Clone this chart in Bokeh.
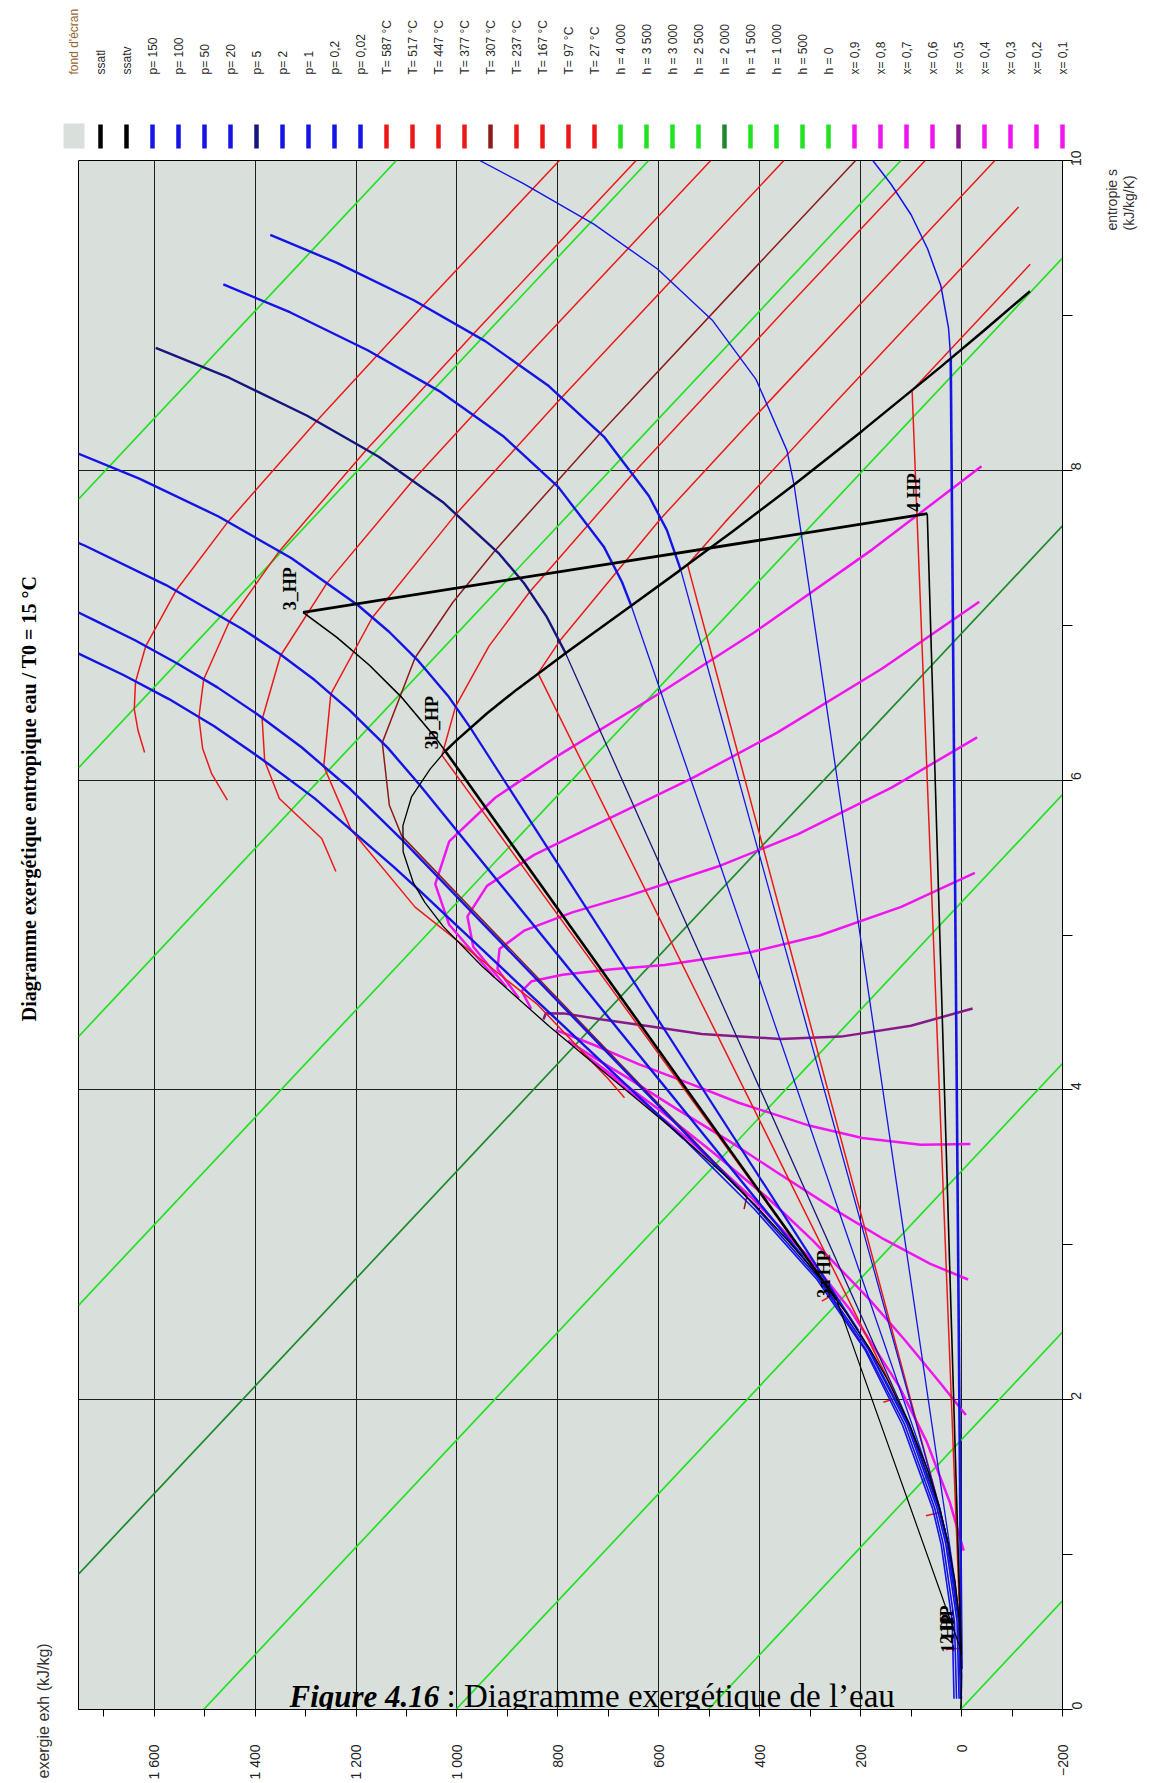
import math
from bokeh.plotting import figure
from bokeh.layouts import column, row
from bokeh.models import Range1d, FixedTicker
from bokeh.core.properties import value
from bokeh.embed import file_html
from bokeh.resources import INLINE

# ---------------------------------------------------------------------------
# Water exergy diagram, T0 = 15 °C : entropy s (kJ/kg/K) vs exergy ex (kJ/kg)
# ---------------------------------------------------------------------------

# isobars (bar); each curve: compressed liquid, saturated liquid, saturated vapour, superheated
isobar_labels = ["p= 150", "p= 100", "p= 50", "p= 20", "p= 5", "p= 2", "p= 1", "p= 0,2", "p= 0,02"]
isobar_s = [
    [0.07, 0.565, 1.066, 1.30, 1.835, 2.32, 2.777, 3.228, 3.684, 5.310, 5.442, 5.882, 6.140, 6.348, 6.523, 6.677, 6.817],
    [0.07, 0.567, 1.069, 1.301, 1.837, 2.321, 2.789, 3.248, 3.360, 5.614, 5.944, 6.212, 6.419, 6.597, 6.756, 6.903, 7.038, 7.17],
    [0.07, 0.57, 1.072, 1.304, 1.84, 2.327, 2.79, 2.921, 5.973, 6.208, 6.449, 6.646, 6.819, 6.976, 7.259, 7.513, 7.63],
    [0.07, 0.571, 1.074, 1.305, 1.841, 2.33, 2.447, 6.340, 6.545, 6.766, 6.956, 7.127, 7.432, 7.702, 7.946, 8.17],
    [0.07, 0.572, 1.075, 1.307, 1.861, 6.821, 7.059, 7.271, 7.460, 7.794, 8.087, 8.352, 8.596, 8.79],
    [0.07, 0.572, 1.075, 1.307, 1.530, 7.127, 7.279, 7.507, 7.893, 8.222, 8.513, 8.775, 9.019, 9.20],
    [0.07, 0.572, 1.075, 1.303, 7.359, 7.614, 7.834, 8.216, 8.544, 8.834, 9.098, 9.341, 9.52],
    [0.07, 0.572, 0.832, 7.907, 8.127, 8.585, 8.969, 9.298, 9.588, 9.852, 10.0],
    [0.07, 0.261, 8.724, 8.92, 9.191, 9.43, 9.65, 9.85, 10.0],
]
isobar_ex = [
    [15, 18.5, 40.5, 57.6, 117, 191, 287, 410, 550.7, 1082, 1126, 1282, 1388.6, 1481, 1570.7, 1660, 1749.7],
    [10, 14, 36.5, 53.3, 112.5, 188.8, 285.6, 409, 441, 1108.7, 1212, 1308, 1393, 1474, 1556, 1638, 1722, 1806],
    [5, 9, 31.5, 49, 108, 185, 284, 314, 1075, 1137, 1212, 1282, 1353, 1425.5, 1576.5, 1737, 1821],
    [2, 6.2, 28.8, 46, 105, 184, 205, 974, 1018, 1075.6, 1134, 1195.6, 1327.8, 1472.5, 1629.5, 1797],
    [0.7, 4.6, 27.2, 44.5, 105.6, 785, 823, 867, 916, 1027.8, 1155, 1296.8, 1450.6, 1597],
    [0.5, 4.4, 27, 44.2, 65.5, 654.8, 673, 709, 799.4, 909, 1035.8, 1177, 1330, 1463],
    [0.5, 4.4, 27, 43.7, 556.7, 584, 619.6, 708.5, 818, 944, 1085.5, 1238.8, 1370],
    [0.5, 4.3, 13.4, 332, 346, 407, 494, 602, 728, 869, 955],
    [0.7, 0.0, 21.5, 25.9, 41, 67.4, 100, 140.4, 176],
]
# position of the saturated-liquid point in each isobar (the saturated vapour follows it)
isobar_sat_index = [8, 8, 7, 6, 4, 4, 3, 2, 1]

# isotherms (°C)
isotherm_labels = ["T= 587 °C", "T= 517 °C", "T= 447 °C", "T= 377 °C", "T= 307 °C",
                   "T= 237 °C", "T= 167 °C", "T= 97 °C", "T= 27 °C"]
isotherm_s = [
    [6.178, 6.32, 6.458, 6.634, 6.863, 7.222, 7.667, 8.318, 9.064, 10.0],
    [5.871, 6.04, 6.204, 6.404, 6.649, 7.024, 7.478, 8.132, 8.879, 10.0],
    [5.41, 5.623, 5.881, 6.123, 6.393, 6.801, 7.27, 7.932, 8.68, 10.0],
    [3.95, 4.07, 4.55, 5.18, 5.68, 6.089, 6.555, 7.048, 7.717, 8.469, 10.0],
    [3.23, 3.315, 5.64, 5.838, 6.242, 6.79, 7.148, 7.484, 8.239, 9.302, 10.0],
    [2.636, 2.679, 6.16, 6.476, 6.865, 7.216, 7.981, 9.044, 10.0],
    [1.983, 2.012, 6.689, 6.896, 7.689, 8.432, 9.072, 10.0],
    [1.251, 1.273, 7.391, 7.667, 8.41, 9.154, 9.70],
    [0.387, 0.395, 8.515, 8.78, 9.10, 9.33],
]
isotherm_ex = [
    [1619, 1632, 1639.5, 1637, 1617, 1557, 1454, 1278, 1067, 797],
    [1455, 1486, 1504, 1511.5, 1502, 1451, 1352, 1179.5, 968, 645],
    [1240, 1268, 1352, 1381, 1386, 1350, 1258, 1088, 877.5, 497],
    [668, 700, 840, 1083, 1210, 1264, 1250, 1168, 1002, 793, 352],
    [431, 425.5, 1109.5, 1134, 1148, 1083, 1008, 924, 716, 411, 210],
    [277, 254.2, 1029.7, 1002.7, 936.5, 855.7, 650.6, 347.7, 72],
    [155, 127.8, 839.3, 797, 596, 385, 201, -66],
    [70.7, 41.4, 543.1, 468.4, 258, 44, -113],
    [31, 1.1, 98, 22, -70, -136],
]

# isenthalps (kJ/kg): straight lines, end points
isenthalp_labels = ["h = 4 000", "h = 3 500", "h = 3 000", "h = 2 500", "h = 2 000",
                    "h = 1 500", "h = 1 000", "h = 500", "h = 0"]
isenthalp_s = [[7.814, 10.0], [6.079, 10.0], [4.344, 10.0], [2.609, 9.37], [0.873, 7.641],
               [0.0, 5.906], [0.0, 4.17], [0.0, 2.436], [0.0, 0.701]]
isenthalp_ex = [[1750, 1120], [1750, 620], [1750, 120], [1750, -200], [1750, -200],
                [1502, -200], [1002, -200], [502, -200], [2, -200]]

# vapour quality lines (10 °C ... 370 °C)
quality_labels = ["x= 0,9", "x= 0,8", "x= 0,7", "x= 0,6", "x= 0,5", "x= 0,4", "x= 0,3", "x= 0,2", "x= 0,1"]
quality_s = [
    [8.026, 7.488, 6.958, 6.569, 6.140, 5.886, 5.604, 5.328, 5.068, 4.729],
    [7.151, 6.719, 6.305, 6.009, 5.695, 5.517, 5.317, 5.120, 4.924, 4.661],
    [6.276, 5.951, 5.651, 5.449, 5.251, 5.148, 5.030, 4.911, 4.781, 4.592],
    [5.401, 5.182, 4.997, 4.889, 4.806, 4.779, 4.743, 4.702, 4.638, 4.523],
    [4.526, 4.414, 4.344, 4.329, 4.361, 4.410, 4.456, 4.494, 4.495, 4.455],
    [3.651, 3.646, 3.690, 3.768, 3.917, 4.040, 4.168, 4.285, 4.351, 4.386],
    [2.776, 2.877, 3.036, 3.208, 3.473, 3.671, 3.881, 4.076, 4.208, 4.317],
    [1.901, 2.109, 2.382, 2.648, 3.028, 3.302, 3.594, 3.867, 4.065, 4.248],
    [1.026, 1.340, 1.729, 2.088, 2.584, 2.933, 3.307, 3.659, 3.921, 4.180],
]
quality_ex = [
    [-39.5, 177.2, 408.8, 594.5, 808.4, 924.3, 1015.3, 1043.0, 1015.7, 926.0],
    [-35.1, 158.0, 366.3, 535.7, 735.0, 847.1, 940.5, 979.3, 967.7, 901.6],
    [-30.7, 138.8, 323.9, 476.9, 661.7, 769.9, 865.7, 915.6, 919.7, 877.3],
    [-26.3, 119.6, 281.4, 418.1, 588.4, 692.7, 790.9, 851.9, 871.7, 852.9],
    [-21.9, 100.3, 239.0, 359.3, 515.1, 615.5, 716.2, 788.3, 823.8, 828.6],
    [-17.4, 81.1, 196.6, 300.4, 441.7, 538.3, 641.4, 724.6, 775.8, 804.2],
    [-13.0, 61.9, 154.1, 241.6, 368.4, 461.1, 566.6, 660.9, 727.8, 779.8],
    [-8.6, 42.7, 111.7, 182.8, 295.1, 383.9, 491.8, 597.2, 679.8, 755.5],
    [-4.2, 23.5, 69.2, 124.0, 221.7, 306.7, 417.0, 533.5, 631.8, 731.2],
]

# saturation curves
ssatl_s = [0.0, 0.151, 0.2245, 0.572, 0.831, 1.075, 1.307, 1.528, 1.842, 2.139, 2.331, 2.564,
           2.794, 3.020, 3.255, 3.450, 3.660, 3.778, 3.917, 4.111, 4.407]
ssatl_ex = [1.7, 0.2, 0.0, 4.3, 13.3, 26.8, 44.2, 65.2, 103.2, 148.4, 182.5, 229.5,
            282.5, 342.2, 408.6, 469.8, 541.6, 583.8, 634.8, 706.8, 816.1]
ssatv_top_s = [4.407, 4.798, 5.054, 5.211, 5.336, 5.537, 5.706, 5.891, 6.072, 6.187]
ssatv_top_ex = [816.1, 950.3, 1027, 1063.7, 1086.3, 1106.7, 1107.1, 1090.1, 1052.9, 1023]
ssatv_low_s = [6.187, 6.255, 6.430, 6.584, 6.837, 7.129, 7.354, 7.612, 7.909, 8.256, 8.666, 8.901, 9.156]
ssatv_low_ex = [1023, 1001.5, 940.8, 881.7, 777.5, 653.3, 558.2, 451.2, 331.4, 196.4, 42.0, -43.9, -135.6]

# steam cycle states (1, 2, 3a, 3b, 3, 4)
cycle_names = ["1 HP", "2 HP", "3a HP", "3b_HP", "3_HP", "4 HP"]
cycle_s = [0.354, 0.41, 2.646, 6.187, 7.083, 7.72]
cycle_ex = [0.6, 4.0, 247.7, 1023, 1305, 68]
# superheating 3b -> 3 along the 30 bar isobar
superheat_s = [6.187, 6.287, 6.539, 6.743, 6.921, 7.083]
superheat_ex = [1023, 1045.8, 1111, 1174, 1238, 1305]

# axis ticks
ex_ticks = [-200, 0, 200, 400, 600, 800, 1000, 1200, 1400, 1600]
ex_minor = [-100, 100, 300, 500, 700, 900, 1100, 1300, 1500, 1700]
s_ticks = [0, 2, 4, 6, 8, 10]
s_minor = [1, 3, 5, 7, 9]

# ---------------------------------------------------------------------------
BG = "#d9e0db"
BLUE = "#1414e6"
NAVY = "#16167c"
RED = "#ec1818"
MAROON = "#8e1b1b"
GREEN = "#22e022"
DKGREEN = "#1c8a2c"
MAGENTA = "#f014f0"
PURPLE = "#861a8a"

isobar_colors = [BLUE] * 4 + [NAVY] + [BLUE] * 4
isobar_w_liquid = [1.6] * 9
isobar_w_mix = [2.4, 2.4, 2.4, 2.2, 1.3, 1.3, 1.3, 1.3, 2.6]
isobar_w_vapour = [2.4] * 7 + [1.4, 1.5]
isotherm_colors = [RED] * 4 + [MAROON] + [RED] * 4
isenthalp_colors = [GREEN] * 4 + [DKGREEN] + [GREEN] * 4
quality_colors = [MAGENTA] * 4 + [PURPLE] + [MAGENTA] * 4

PAGE_W, PAGE_H = 1150, 1783
LEG_H = 150
LEFT_W, RIGHT_W = 60, 54
FRAME_L, FRAME_R, FRAME_T, FRAME_B = 78, 1062, 160, 1709
EX_MAX, EX_MIN = 1750, -200
BODY_H = PAGE_H - LEG_H


def ex_at(px):
    return EX_MAX - (px - FRAME_L) * (EX_MAX - EX_MIN) / (FRAME_R - FRAME_L)


def s_at(py):
    return (FRAME_B - py) * 10.0 / (FRAME_B - FRAME_T)


def blank(width, height, x0):
    f = figure(width=width, height=height, x_range=Range1d(x0, x0 + width), y_range=Range1d(0, height),
               x_axis_type=None, y_axis_type=None, output_backend="svg", toolbar_location=None,
               min_border=0, outline_line_color=None, background_fill_color="white",
               border_fill_color="white", frame_align=False)
    f.grid.visible = False
    return f


# ---------------------------- legend strip ---------------------------------
leg = blank(PAGE_W, LEG_H, 0)
entry_names = ["ssatl", "ssatv"] + isobar_labels + isotherm_labels + isenthalp_labels + quality_labels
entry_colors = ["black", "black"] + isobar_colors + isotherm_colors + isenthalp_colors + quality_colors
entry_x = [100 + 26.0 * i for i in range(len(entry_names))]

leg.quad(left=[63], right=[84], bottom=[LEG_H - 148], top=[LEG_H - 123], fill_color=BG, line_color=None)
leg.segment(x0=entry_x, y0=[LEG_H - 148] * len(entry_x), x1=entry_x, y1=[LEG_H - 124] * len(entry_x),
            line_color=entry_colors, line_width=4.5)
leg.text(x=[73.5] + entry_x, y=[LEG_H - 74] * (len(entry_x) + 1),
         text=["fond d'écran"] + entry_names, angle=math.pi / 2,
         text_align="left", text_baseline="middle", text_font=value("Liberation Sans"),
         text_font_size="12px", text_color=["#94652e"] + ["#2a2a2a"] * len(entry_x))

# ------------------------- left and right margins ---------------------------
left = blank(LEFT_W, BODY_H, 0)
left.text(x=[28], y=[PAGE_H - 798], text=["Diagramme exergétique entropique eau / T0 = 15 °C"],
          angle=math.pi / 2, text_align="center", text_baseline="middle",
          text_font=value("Liberation Serif"), text_font_style="bold", text_font_size="20px",
          text_color="black")
left.text(x=[43], y=[PAGE_H - 1778], text=["exergie exh (kJ/kg)"], angle=math.pi / 2,
          text_align="left", text_baseline="middle", text_font=value("Liberation Sans"),
          text_font_size="16px", text_color="#333333")

right = blank(RIGHT_W, BODY_H, PAGE_W - RIGHT_W)
right.text(x=[1111, 1128], y=[PAGE_H - 230, PAGE_H - 230], text=["entropie s", "(kJ/kg/K)"],
           angle=math.pi / 2, text_align="left", text_baseline="middle",
           text_font=value("Liberation Sans"), text_font_size="14px", text_color="#333333")

# ----------------------------- main diagram --------------------------------
p = figure(width=PAGE_W - LEFT_W - RIGHT_W, height=BODY_H,
           x_range=Range1d(EX_MAX, EX_MIN), y_range=Range1d(0, 10),
           output_backend="svg", toolbar_location=None, y_axis_location="right",
           min_border_left=FRAME_L - LEFT_W, min_border_right=PAGE_W - RIGHT_W - FRAME_R,
           min_border_top=FRAME_T - LEG_H, min_border_bottom=PAGE_H - FRAME_B,
           background_fill_color=BG, border_fill_color="white",
           outline_line_color="black", outline_line_width=1, frame_align=False)

p.xaxis.ticker = FixedTicker(ticks=ex_ticks, minor_ticks=ex_minor)
p.yaxis.ticker = FixedTicker(ticks=s_ticks, minor_ticks=s_minor)
p.xaxis.major_label_overrides = {1600: "1 600", 1400: "1 400", 1200: "1 200", 1000: "1 000"}
for ax in (p.xaxis, p.yaxis):
    ax.axis_line_color = "black"
    ax.major_tick_line_color = "black"
    ax.minor_tick_line_color = "black"
    ax.major_tick_in = 0
    ax.minor_tick_in = 0
    ax.major_label_orientation = math.pi / 2
    ax.major_label_text_font = "Liberation Sans"
    ax.major_label_text_font_size = "14px"
    ax.major_label_text_color = "#222222"
p.xaxis.major_tick_out = 7
p.xaxis.minor_tick_out = 7
p.xaxis.major_label_standoff = 28
p.yaxis.major_tick_out = 10
p.yaxis.minor_tick_out = 10
p.yaxis.major_label_standoff = 4

p.xgrid.grid_line_color = "#1e1e1e"
p.ygrid.grid_line_color = "#1e1e1e"

# isenthalps
for xs, ys, c in zip(isenthalp_s, isenthalp_ex, isenthalp_colors):
    p.line(ys, xs, line_color=c, line_width=1.7)
# vapour quality
for xs, ys, c in zip(quality_s, quality_ex, quality_colors):
    p.line(ys, xs, line_color=c, line_width=2.5)
# isotherms
for xs, ys, c in zip(isotherm_s, isotherm_ex, isotherm_colors):
    p.line(ys, xs, line_color=c, line_width=1.5)
# isobars: liquid branch, liquid-vapour mixture, vapour branch
for xs, ys, c, k, wl, wm, wv in zip(isobar_s, isobar_ex, isobar_colors, isobar_sat_index,
                                    isobar_w_liquid, isobar_w_mix, isobar_w_vapour):
    p.line(ys[:k + 1], xs[:k + 1], line_color=c, line_width=wl)
    p.line(ys[k:k + 2], xs[k:k + 2], line_color=c, line_width=wm)
    p.line(ys[k + 1:], xs[k + 1:], line_color=c, line_width=wv)

# saturation curves
p.line(ssatl_ex, ssatl_s, line_color="black", line_width=1.3)
p.line(ssatv_top_ex, ssatv_top_s, line_color="black", line_width=1.3)
p.line(ssatv_low_ex, ssatv_low_s, line_color="black", line_width=2.5)

# steam cycle
i1, i2, i3a, i3b, i3, i4 = range(6)
p.line([cycle_ex[i1], cycle_ex[i2], cycle_ex[i3a]], [cycle_s[i1], cycle_s[i2], cycle_s[i3a]],
       line_color="black", line_width=1.2)
p.line([cycle_ex[i3a], cycle_ex[i3b]], [cycle_s[i3a], cycle_s[i3b]], line_color="black", line_width=2.6)
p.line(superheat_ex, superheat_s, line_color="black", line_width=1.6)
p.line([cycle_ex[i3], cycle_ex[i4]], [cycle_s[i3], cycle_s[i4]], line_color="black", line_width=2.8)
p.line([cycle_ex[i4], cycle_ex[i1]], [cycle_s[i4], cycle_s[i1]], line_color="black", line_width=1.6)

p.text(x=cycle_ex, y=cycle_s, text=cycle_names, angle=math.pi / 2, x_offset=-3, y_offset=-2,
       text_align="left", text_baseline="bottom", text_font=value("Liberation Serif"),
       text_font_style="bold", text_font_size="18px", text_color="black")

# figure caption, resting on the lower edge of the diagram
p.text(x=[ex_at(289)], y=[s_at(FRAME_B + 4)], text=["Figure 4.16"], text_align="left",
       text_baseline="bottom", text_font=value("Liberation Serif"),
       text_font_style="bold italic", text_font_size="31px", text_color="black")
p.text(x=[ex_at(446)], y=[s_at(FRAME_B + 4)], text=[": Diagramme exergétique de l’eau"], text_align="left",
       text_baseline="bottom", text_font=value("Liberation Serif"),
       text_font_size="33px", text_color="black")

layout = column(leg, row(left, p, right, spacing=0), spacing=0)
open("out.html", "w").write(file_html(layout, INLINE, "Diagramme exergétique de l'eau"))
